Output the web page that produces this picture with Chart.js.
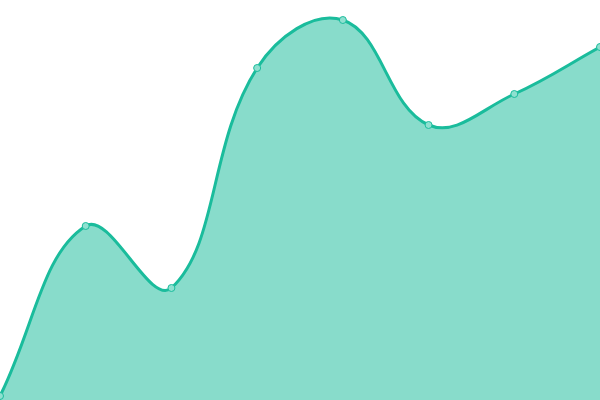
<!DOCTYPE html>
<html>
<head>
<meta charset="utf-8">
<script src="https://cdn.jsdelivr.net/npm/chart.js@4/dist/chart.umd.min.js"></script>
<style>
html,body{margin:0;padding:0;background:#fff;}
#wrap{width:600px;height:400px;}
</style>
</head>
<body>
<div id="wrap"><canvas id="c"></canvas></div>
<script>
const categories = ["Jan", "Feb", "Mar", "Apr", "May", "Jun", "Jul", "Aug"];
const seriesValues = [1, 43.5, 28, 83, 95, 68.75, 76.5, 88.25];

new Chart(document.getElementById('c'), {
  type: 'line',
  data: {
    labels: categories,
    datasets: [{
      data: seriesValues,
      fill: true,
      backgroundColor: 'rgba(26,188,156,0.52)',
      borderColor: '#1abc9c',
      borderWidth: 3,
      tension: 0.4,
      pointRadius: 3.5,
      pointBackgroundColor: '#8fe0d0',
      pointBorderColor: '#1abc9c',
      pointBorderWidth: 1
    }]
  },
  options: {
    responsive: true,
    maintainAspectRatio: false,
    animation: false,
    layout: { padding: 0, autoPadding: false },
    plugins: { legend: { display: false }, tooltip: { enabled: false } },
    scales: {
      x: { display: false, offset: false },
      y: { display: false, min: 0, max: 100 }
    }
  }
});
</script>
</body>
</html>
